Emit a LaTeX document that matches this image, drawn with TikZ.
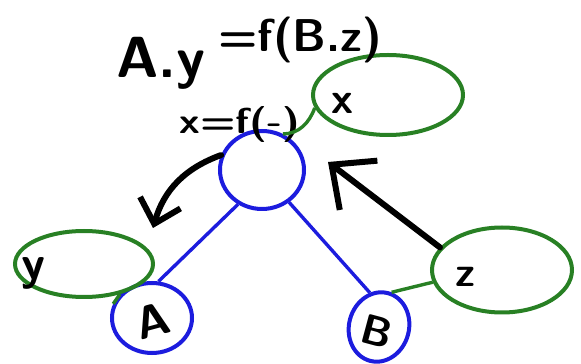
\documentclass[tikz,border=0pt]{standalone}
\usepackage{tikz}
\usetikzlibrary{arrows.meta,shapes.geometric}
\usepackage{xcolor}
\definecolor{penblue}{RGB}{28,28,222}
\definecolor{pengreen}{RGB}{40,128,36}

\begin{document}
\begin{tikzpicture}[x=1pt,y=1pt,
  ring/.style={draw=penblue, line width=4pt, ellipse, inner sep=0pt},
  blob/.style={draw=pengreen, line width=4pt, ellipse, inner sep=0pt},
  treeedge/.style={draw=penblue, line width=3.4pt},
  attredge/.style={draw=pengreen, line width=3.4pt},
  flow/.style={draw=black, line width=6pt, line cap=round, line join=round},
  hand/.style={font=\fontsize{#1}{#1}\selectfont\sffamily\bfseries, inner sep=0pt}
]
\useasboundingbox (0,0) rectangle (581,364);

% Tree nodes
\node[ring, minimum width=84pt, minimum height=78pt] (root) at (262,194) {};
\node[ring, minimum width=80pt, minimum height=70pt] (nodeA) at (152,46) {};
\node[ring, minimum width=60pt, minimum height=70pt, rotate=-15] (nodeB) at (379,37) {};

% Attribute blobs
\node[blob, minimum width=150pt, minimum height=80pt] (blobx) at (388,269) {};
\node[blob, minimum width=138pt, minimum height=66pt] (bloby) at (84,100) {};
\node[blob, minimum width=140pt, minimum height=85pt] (blobz) at (502,94) {};

% Labels
\node[hand=44] (labx) at (342,261) {x};
\node[hand=48] (laby) at (33,91) {y};
\node[hand=46, rotate=15] (labA) at (153,43) {A};
\node[hand=42, rotate=-15] (labB) at (377,33) {B};
\node[hand=42] (labz) at (465,87) {z};

% Rules
\node[hand=58, anchor=base west] (ruleA) at (116,286) {A.y};
\node[hand=46, anchor=base west] (ruleF) at (218,312) {=f(B.z)};
\node[hand=36, xscale=1.15] (ruleX) at (240,239) {x=f(-)};

% Edges
\draw[treeedge] (root.235) -- (nodeA.80);
\draw[treeedge] (root.310) -- (nodeB.120);
\draw[attredge] (root.60) to[out=0, in=250] (blobx.190);
\draw[attredge] (bloby.-40) -- (nodeA.160);
\draw[attredge] (blobz.190) -- (nodeB.85);

% Dependency arrows
\coordinate (ytip) at (153,136);
\coordinate (rtip) at (328,202);
\draw[flow, -{Straight Barb[length=22pt, width=42pt]}] (root.160) to[out=200, in=74] (ytip);
\draw[flow, -{Straight Barb[length=34pt, width=62pt]}] (blobz.160) -- (rtip);

\end{tikzpicture}
\end{document}
